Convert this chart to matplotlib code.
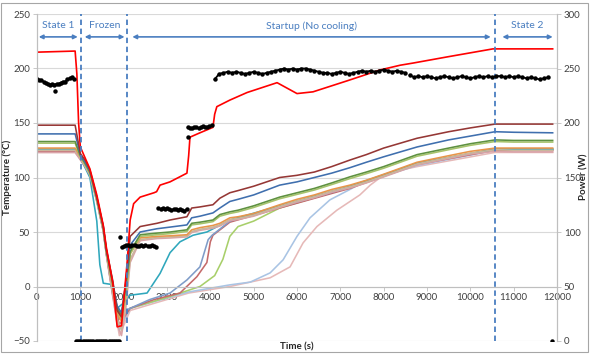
import numpy as np
import matplotlib
matplotlib.use("Agg")
import matplotlib.pyplot as plt
from matplotlib.patches import Rectangle

plt.rcParams['font.family'] = ['Lato', 'DejaVu Sans']

# phase boundaries (s) and labels
phase_edges = [1020, 2080, 10580]
phase_names = ["State 1", "Frozen", "Startup (No cooling)", "State 2"]
phase_spans = [(40, 940), (1100, 2020), (2200, 10470), (10740, 11900)]

# main temperature channels, read on a shared time grid
grid_t = [0, 880, 1000, 1110, 1220, 1380, 1530, 1600, 1750, 1850, 1950, 2050, 2150, 2380,
          2770, 3070, 3460, 3570, 3760, 4060, 4220, 4450, 4640, 5000, 5600, 6000, 6400,
          6800, 7220, 7600, 8000, 8770, 9500, 10000, 10570, 11000, 11900]
brown_T = [148, 148, 122, 116, 107, 82, 55, 34, 5, -22, -28, 5, 46, 55, 58, 61, 64, 72, 73, 75,
           81, 86, 88, 92, 100, 102, 105, 110, 116, 121, 127, 136, 142, 145.5, 149, 149, 149]
blue_T = [140, 140, 121, 114, 106, 82, 55, 34, 3, -18, -24, 3, 38, 50, 53, 54.5, 56.5, 63, 64.5,
          67.5, 72, 78, 80, 84, 93, 96, 100, 104, 109, 114, 119, 128, 134.5, 138, 142, 141.5, 141]
green_T = [133, 133, 120, 113, 105, 81, 54, 33, 2, -20, -26, 0, 32, 47.5, 49, 50, 52, 58, 59, 61,
           66, 68.5, 70, 74, 82, 86, 90, 95, 100.6, 105, 110, 121, 127, 131, 134.5, 134, 134]
olive_T = [131.5, 131.5, 119, 112, 104, 80, 53, 32, 0, -22, -30, -5, 30, 46, 47.5, 48.5, 50.5,
           56.5, 57.5, 59.5, 64.5, 67, 68.5, 72.5, 80.5, 84.5, 88.5, 93.5, 99, 103.5, 108.5,
           119.5, 125.5, 129.5, 133, 132.5, 132.5]
orange_T = [127, 127, 119, 112, 104, 80, 53, 32, -2, -25, -32, -8, 30, 44.6, 46, 46.5, 47.5, 52,
            54, 56, 58, 63, 64, 67, 75, 80, 84, 89, 93, 97.5, 103, 114, 120, 124, 127, 127, 127]
tan_T = [125, 125, 118, 111, 103, 79, 52, 31, -5, -30, -40, -15, 25, 43, 45, 45.5, 46.5, 50.5,
         52.5, 54.5, 56.5, 61.5, 62.5, 65.5, 73.5, 78.5, 82.5, 87.5, 91.5, 96, 101.5, 112.5,
         118.5, 122.5, 125.5, 125, 125]
pink_T = [123, 123, 117, 110, 102, 78, 51, 30, -8, -35, -45, -20, 22, 42, 44, 44.5, 45.5, 49.5,
          51.5, 53.5, 55.5, 60.5, 61.5, 64.5, 72.5, 77.5, 81.5, 86.5, 90.5, 95, 100.5, 111.5,
          117.5, 121.5, 124, 123.5, 123.5]

# channels that stayed frozen longer
teal_t = [0, 880, 1000, 1220, 1380, 1450, 1530, 1700, 1850, 2000, 2150, 2540, 2840, 3070, 3300,
          3600, 3920, 4450, 5600, 7220, 8770, 10570, 11900]
teal_T = [126, 126, 118, 100, 60, 20, 3, 2, -20, -15, -8, -6, 12, 31, 41, 47, 50, 61, 74, 92,
          113, 126, 126]
steel_t = [0, 880, 1000, 1220, 1380, 1530, 1600, 1750, 1900, 2150, 2600, 3070, 3460, 3760, 3950,
           4040, 4450, 5600, 7220, 8770, 10570, 11900]
steel_T = [125, 125, 118, 105, 80, 52, 31, -5, -25, -20, -12, -6, 6, 18, 43, 47, 60, 73, 91, 113,
           126, 126]
rose_t = [0, 880, 1000, 1220, 1380, 1530, 1600, 1750, 1900, 2150, 2700, 3300, 3690, 3920, 4000,
          4060, 4450, 5600, 7220, 8770, 10570, 11900]
rose_T = [124, 124, 117, 104, 79, 51, 30, -8, -35, -20, -12, -6, 9, 22, 41, 47, 59, 72, 90, 112,
          125, 125]
lgreen_t = [0, 880, 1000, 1220, 1380, 1530, 1600, 1750, 1900, 2150, 3000, 3760, 4100, 4290,
            4450, 4640, 5000, 5600, 7220, 8770, 10570, 11900]
lgreen_T = [126, 126, 118, 105, 80, 52, 31, -5, -30, -20, -10, 0, 10, 25, 46, 55, 60, 72, 91,
            113, 126, 126]
lblue_t = [0, 880, 1000, 1220, 1380, 1530, 1600, 1750, 1900, 2150, 3500, 4450, 4920, 5380, 5680,
           6000, 6300, 6760, 7220, 7500, 8770, 10570, 11900]
lblue_T = [124, 124, 117, 104, 79, 51, 30, -8, -40, -20, -5, 1.5, 4, 12.5, 24.5, 46, 63, 79.5,
           89, 95, 111, 125, 125]
lpink_t = [0, 880, 1000, 1220, 1380, 1530, 1600, 1750, 1900, 2150, 3500, 4450, 5380, 5840, 6140,
           6460, 6920, 7450, 7690, 7990, 8300, 8770, 10570, 11900]
lpink_T = [123, 123, 116, 103, 78, 50, 29, -10, -45, -22, -6, 0, 8, 18, 40, 55, 70, 84, 93, 102,
           106, 110, 123, 123]

# hottest channel (red)
red_t = [0, 880, 920, 960, 1000, 1220, 1380, 1530, 1600, 1750, 1850, 1950, 2030, 2080, 2150,
         2230, 2380, 2700, 2760, 2840, 3070, 3460, 3500, 3530, 3760, 4060, 4100, 4150, 4450,
         4850, 5540, 6000, 6370, 7150, 7910, 8380, 8680, 9460, 10520, 11900]
red_T = [215, 216, 195, 150, 128, 108, 84, 56, 36, 3, -37, -36, 0, 22, 61, 76, 82, 86, 87, 93,
         96, 104, 120, 137, 141, 146, 158, 165, 171, 178, 187, 177, 178.6, 188.6, 198.6, 203,
         205, 210.6, 218, 218]

# power (W), right axis, one list per operating level
pw_state1 = [240, 239, 239, 238, 237, 236, 235, 236, 235, 236, 236, 237, 238, 238, 240, 241,
             242, 240]
pw_off = [0] * 21
pw_low = [86, 87, 88, 88, 87, 88, 88, 87, 87, 88, 87, 88, 87, 87, 88, 87, 86]
pw_mid = [122, 121, 122, 121, 122, 121, 120, 121, 121, 120, 121, 120, 119, 121]
pw_high = [196, 195, 195, 196, 196, 195, 196, 197, 196, 196, 197, 198]
pw_full = [240, 245, 246, 247, 246, 247, 246, 245, 246, 247, 246, 245, 246, 247, 248, 249, 250,
           249, 250, 249, 250, 250, 249, 248, 247, 246, 246, 245, 246, 247, 246, 245, 246, 247,
           248, 247, 248, 247, 248, 249, 248, 247, 248, 247, 246]
pw_state2 = [244, 242, 243, 242, 243, 242, 241, 242, 243, 242, 241, 242, 243, 242, 241, 242,
             243, 242, 243, 242, 243, 243, 242, 243, 242, 243, 242, 241, 242, 241, 240, 241, 242]
pw_extra_t = [420, 1920, 3490, 11880]
pw_extra = [229, 95, 187, 0]

power_segments = [(np.arange(0, 851, 50), pw_state1), (np.arange(900, 1901, 50), pw_off),
                  (np.arange(1950, 2751, 50), pw_low), (np.arange(2800, 3451, 50), pw_mid),
                  (np.arange(3480, 4031, 50), pw_high), (np.arange(4100, 8501, 100), pw_full),
                  (np.arange(8600, 11801, 100), pw_state2)]

fig = plt.figure(figsize=(5.9, 3.54), dpi=100)
ax = fig.add_axes([37 / 590, 13 / 354, 520 / 590, 327 / 354])
ax2 = ax.twinx()

lw = 1.15
for t, v, c in [(lpink_t, lpink_T, '#E6B9B8'), (lblue_t, lblue_T, '#A9C4E4'),
                (lgreen_t, lgreen_T, '#A8CF6A'), (rose_t, rose_T, '#C46A6A'),
                (steel_t, steel_T, '#7F9CC8'), (teal_t, teal_T, '#2FA7BC')]:
    ax.plot(t, v, color=c, lw=lw)
for v, c in [(pink_T, '#D9A3A8'), (tan_T, '#C9B79C'), (orange_T, '#E8954A'),
             (olive_T, '#A6C36A'), (green_T, '#5E9140'), (blue_T, '#3F6FAE'),
             (brown_T, '#953735')]:
    ax.plot(grid_t, v, color=c, lw=lw)
ax.plot(red_t, red_T, color='#FF0000', lw=1.2)

for t, v in power_segments:
    ax2.plot(t, v, '-o', color='black', lw=1.3, ms=3.2, mec='black', mew=0)
ax2.plot(pw_extra_t, pw_extra, 'o', color='black', ms=3.2, mew=0)

ax.set_xlim(0, 12000)
ax.set_ylim(-50, 250)
ax2.set_ylim(0, 300)
ax.set_xticks(range(0, 12001, 1000))
ax.set_yticks(range(-50, 251, 50))
ax2.set_yticks(range(0, 301, 50))
ax.yaxis.grid(True, color='#D9D9D9', lw=0.8)
ax.set_axisbelow(True)

for a in (ax, ax2):
    a.spines['top'].set_visible(False)
    for s in ('left', 'right', 'bottom'):
        a.spines[s].set_color('#BFBFBF')
        a.spines[s].set_linewidth(0.8)
ax.spines['bottom'].set_position(('data', 0))
ax2.spines['bottom'].set_visible(False)
ax.tick_params(axis='both', labelsize=7, colors='#404040', length=3, width=0.6, pad=2)
ax.tick_params(axis='both', color='#BFBFBF')
ax2.tick_params(axis='y', labelsize=7, colors='#404040', length=3, width=0.6, pad=2)
ax2.tick_params(axis='y', color='#BFBFBF')

# phase markers
blue = '#4A7EC0'
for x in phase_edges:
    ax.axvline(x, color=blue, ls=(0, (3, 2)), lw=1.3)
for (x1, x2), name in zip(phase_spans, phase_names):
    ax.annotate('', xy=(x2, 229), xytext=(x1, 229),
                arrowprops=dict(arrowstyle='<|-|>', color=blue, lw=1.2,
                                mutation_scale=6, shrinkA=0, shrinkB=0))
    ax.text((x1 + x2) / 2, 239, name, color=blue, fontsize=7.5, ha='center', va='center')

fig.text(297 / 590, 1 - 347 / 354, 'Time (s)', fontsize=7, fontweight='bold',
         ha='center', va='center', color='#262626')
fig.text(7 / 590, 0.5, 'Temperature (°C)', fontsize=7, fontweight='bold', rotation=90,
         ha='center', va='center', color='#262626')
fig.text(584 / 590, 0.5, 'Power (W)', fontsize=7, fontweight='bold', rotation=90,
         ha='center', va='center', color='#262626')

fig.patches.append(Rectangle((1 / 590, 2 / 354), 587 / 590, 349 / 354, transform=fig.transFigure,
                             fill=False, edgecolor='#A6A6A6', lw=0.8))

fig.savefig('out.png', dpi=100)
